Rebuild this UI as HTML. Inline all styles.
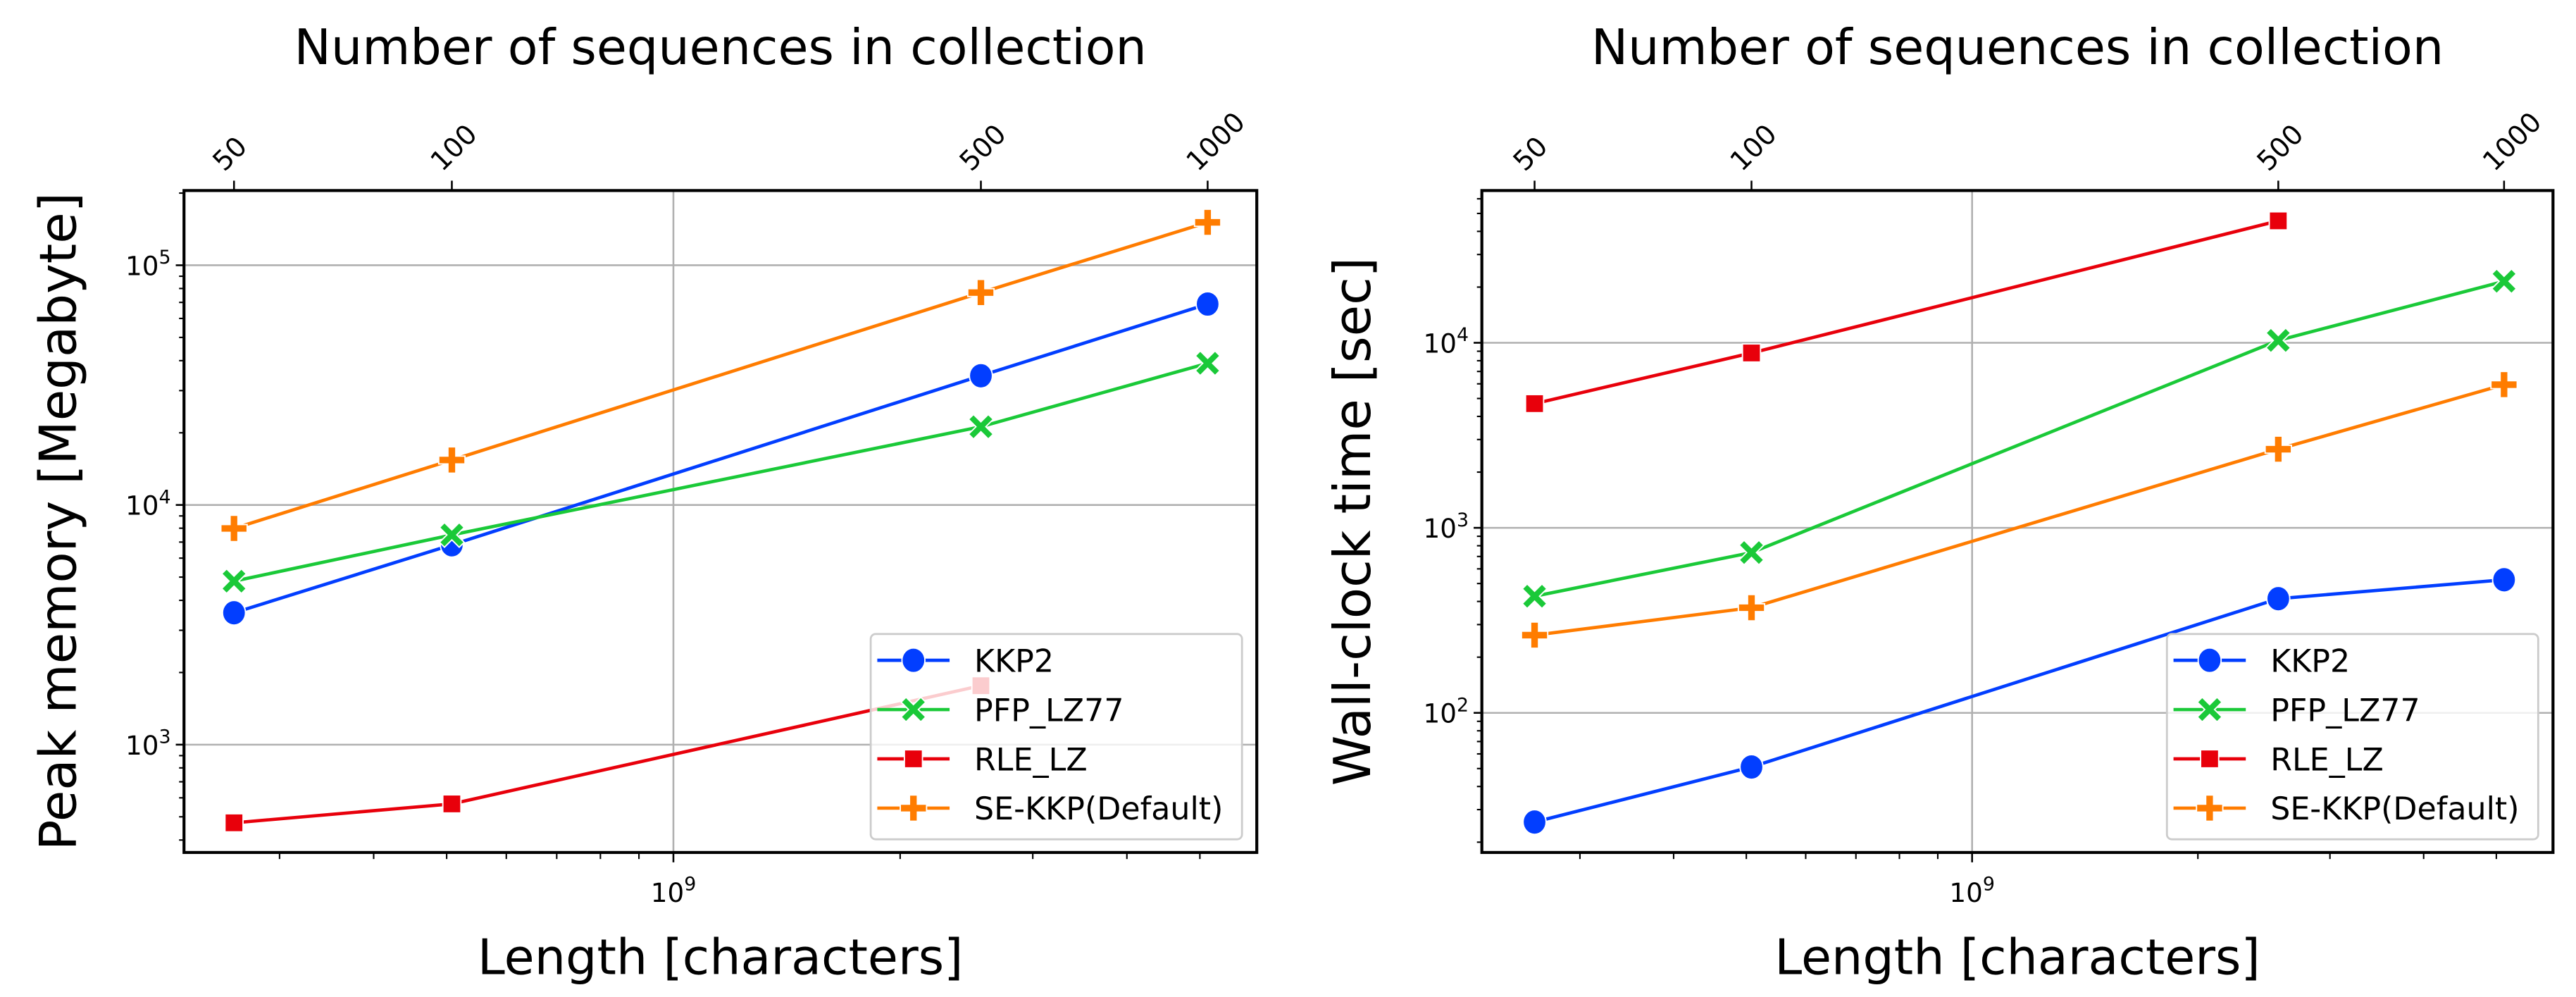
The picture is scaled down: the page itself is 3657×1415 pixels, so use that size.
<!DOCTYPE html>
<html><head><meta charset="utf-8"><style>
html,body{margin:0;padding:0;background:#fff;}
svg{display:block;}
text{font-family:"DejaVu Sans","Liberation Sans",sans-serif;fill:#000;}
</style></head><body>
<svg id="fig" width="3657" height="1415" viewBox="0 0 1568 607" preserveAspectRatio="none" xmlns="http://www.w3.org/2000/svg"></svg>
<script>
// ---- data ----
const lengths = [0.261e9, 0.508e9, 2.56e9, 5.12e9];
const seqTicks = ["50", "100", "500", "1000"];
const seriesNames = ["KKP2", "PFP_LZ77", "RLE_LZ", "SE-KKP(Default)"];
const memKKP2 = [3550, 6820, 34600, 68900];
const memPFP = [4810, 7500, 21200, 39000];
const memRLE = [472, 566, 1762, null];
const memSE = [7980, 15400, 76900, 151000];
const timeKKP2 = [25.7, 51, 414, 524];
const timePFP = [427, 735, 10300, 21500];
const timeRLE = [4690, 8810, 45600, null];
const timeSE = [263, 370, 2660, 5940];

const colors = ["#023eff", "#1ac938", "#e8000b", "#ff7c00"];
const markers = ["circle", "x", "square", "plus"];
const NS = "http://www.w3.org/2000/svg";
const svg = document.getElementById("fig");

function mk(tag, attrs, parent) {
  const e = document.createElementNS(NS, tag);
  for (const k in attrs) e.setAttribute(k, attrs[k]);
  (parent || svg).appendChild(e);
  return e;
}

function marker(g, type, x, y, c) {
  let m;
  if (type === "circle") m = mk("ellipse", {cx: x, cy: y, rx: 7, ry: 7.5, fill: c, stroke: "#fff", "stroke-width": 0.8}, g);
  else if (type === "square") m = mk("rect", {x: x - 5.5, y: y - 5.5, width: 11, height: 11, fill: c, stroke: "#fff", "stroke-width": 0.8}, g);
  else if (type === "plus") m = mk("path", {d: `M${x-2.4} ${y-8}h4.8v5.6h5.6v4.8h-5.6v5.6h-4.8v-5.6h-5.6v-4.8h5.6z`, fill: c, stroke: "#fff", "stroke-width": 0.8}, g);
  else m = mk("path", {d: `M${x-7.5} ${y-4.5}l3-3l4.5 4.5l4.5-4.5l3 3l-4.5 4.5l4.5 4.5l-3 3l-4.5-4.5l-4.5 4.5l-3-3l4.5-4.5z`, fill: c, stroke: "#fff", "stroke-width": 0.8}, g);
  return m;
}

function drawPanel(cfg) {
  const {x0, x1, y0, y1, xmin, xmax, ymin, ymax, series, ylabel, prefix} = cfg;
  const g = mk("g", {});
  
  
  const lx = v => x0 + (Math.log10(v) - Math.log10(xmin)) / (Math.log10(xmax) - Math.log10(xmin)) * (x1 - x0);
  const ly = v => y1 - (Math.log10(v) - Math.log10(ymin)) / (Math.log10(ymax) - Math.log10(ymin)) * (y1 - y0);

  for (let e = Math.ceil(Math.log10(ymin)); e <= Math.floor(Math.log10(ymax)); e++) {
    const y = ly(Math.pow(10, e));
    const gl = mk("line", {x1: x0, x2: x1, y1: y, y2: y, stroke: "#b0b0b0", "stroke-width": 1.1}, g);
    
    
    const t = mk("text", {x: x0 - 8, y: y + 6, "text-anchor": "end", "font-size": 16}, g);
    
    
    t.innerHTML = `10<tspan dy="-7" font-size="11.5">${e}</tspan>`;
    mk("line", {x1: x0 - 5, x2: x0, y1: y, y2: y, stroke: "#000", "stroke-width": 1.1}, g);
    for (let k = 2; k <= 9; k++) {
      const v = k * Math.pow(10, e);
      if (v < ymax) { const yy = ly(v); mk("line", {x1: x0 - 3, x2: x0, y1: yy, y2: yy, stroke: "#000", "stroke-width": 0.9}, g); }
    }
    for (let k = 2; k <= 9; k++) {
      const v = k * Math.pow(10, e - 1);
      if (v > ymin && e === Math.ceil(Math.log10(ymin))) { const yy = ly(v); mk("line", {x1: x0 - 3, x2: x0, y1: yy, y2: yy, stroke: "#000", "stroke-width": 0.9}, g); }
    }
  }
  const xg = lx(1e9);
  const vg = mk("line", {x1: xg, x2: xg, y1: y0, y2: y1, stroke: "#b0b0b0", "stroke-width": 1.1}, g);
  
  
  mk("line", {x1: xg, x2: xg, y1: y1, y2: y1 + 6, stroke: "#000", "stroke-width": 1.1}, g);
  const xt = mk("text", {x: xg, y: y1 + 30, "text-anchor": "middle", "font-size": 16}, g);
  
  
  xt.innerHTML = `10<tspan dy="-7" font-size="11.5">9</tspan>`;
  for (const m of [3e8,4e8,5e8,6e8,7e8,8e8,9e8,2e9,3e9,4e9,5e9]) {
    if (m > xmin && m < xmax) { const x = lx(m); mk("line", {x1: x, x2: x, y1: y1, y2: y1 + 4, stroke: "#000", "stroke-width": 0.9}, g); }
  }
  lengths.forEach((L, i) => {
    const x = lx(L);
    mk("line", {x1: x, x2: x, y1: y0, y2: y0 - 6, stroke: "#000", "stroke-width": 1.1}, g);
    const t = mk("text", {x: 0, y: 0, "font-size": 16.5, "text-anchor": "start", transform: `translate(${x-6},${y0-11}) rotate(-45)`}, g);
    
    
    t.textContent = seqTicks[i];
  });

  series.forEach((vals, si) => {
    const sg = mk("g", {}, g);
    
    
    const pts = [];
    vals.forEach((v, i) => { if (v != null) pts.push([lx(lengths[i]), ly(v)]); });
    const pl = mk("polyline", {points: pts.map(p => p.join(",")).join(" "), fill: "none", stroke: colors[si], "stroke-width": 2}, sg);
    
    
    pts.forEach(p => {
      const m = marker(sg, markers[si], p[0], p[1], colors[si]);
      
      
    });
  });

  const fr = mk("rect", {x: x0, y: y0, width: x1 - x0, height: y1 - y0, fill: "none", stroke: "#000", "stroke-width": 1.8}, g);
  
  

  const lgx = x1 - 235, lgy = y1 - 133;
  const lg = mk("g", {}, g);
  
  
  mk("rect", {x: lgx, y: lgy, width: 226, height: 125, rx: 3, fill: "#fff", "fill-opacity": 0.8, stroke: "#cccccc", "stroke-width": 1.2}, lg);
  seriesNames.forEach((n, si) => {
    const yy = lgy + 16 + si * 30;
    const e = mk("g", {}, lg);
    
    
    mk("line", {x1: lgx + 4, x2: lgx + 48, y1: yy, y2: yy, stroke: colors[si], "stroke-width": 2}, e);
    marker(e, markers[si], lgx + 26, yy, colors[si]);
    const t = mk("text", {x: lgx + 63, y: yy + 7, "font-size": 19}, e);
    t.textContent = n;
  });

  const tt = mk("text", {x: (x0 + x1) / 2, y: 39, "text-anchor": "middle", "font-size": 30}, g);
  
  
  tt.textContent = "Number of sequences in collection";
  const xl = mk("text", {x: (x0 + x1) / 2, y: y1 + 74, "text-anchor": "middle", "font-size": 30}, g);
  
  
  xl.textContent = "Length [characters]";
  const yl = mk("text", {x: 0, y: 0, "text-anchor": "middle", "font-size": 31, transform: `translate(${cfg.ylx},${(y0 + y1) / 2}) rotate(-90)`}, g);
  
  
  yl.textContent = ylabel;
}

drawPanel({prefix: "memory", x0: 112, x1: 765, y0: 116, y1: 519, xmin: 0.224e9, xmax: 5.95e9, ymin: 355, ymax: 2.05e5,
  series: [memKKP2, memPFP, memRLE, memSE], ylabel: "Peak memory [Megabyte]", ylx: 46});
drawPanel({prefix: "time", x0: 902, x1: 1554, y0: 116, y1: 519, xmin: 0.222e9, xmax: 5.95e9, ymin: 17.6, ymax: 66500,
  series: [timeKKP2, timePFP, timeRLE, timeSE], ylabel: "Wall-clock time [sec]", ylx: 834});
</script>
</body></html>
